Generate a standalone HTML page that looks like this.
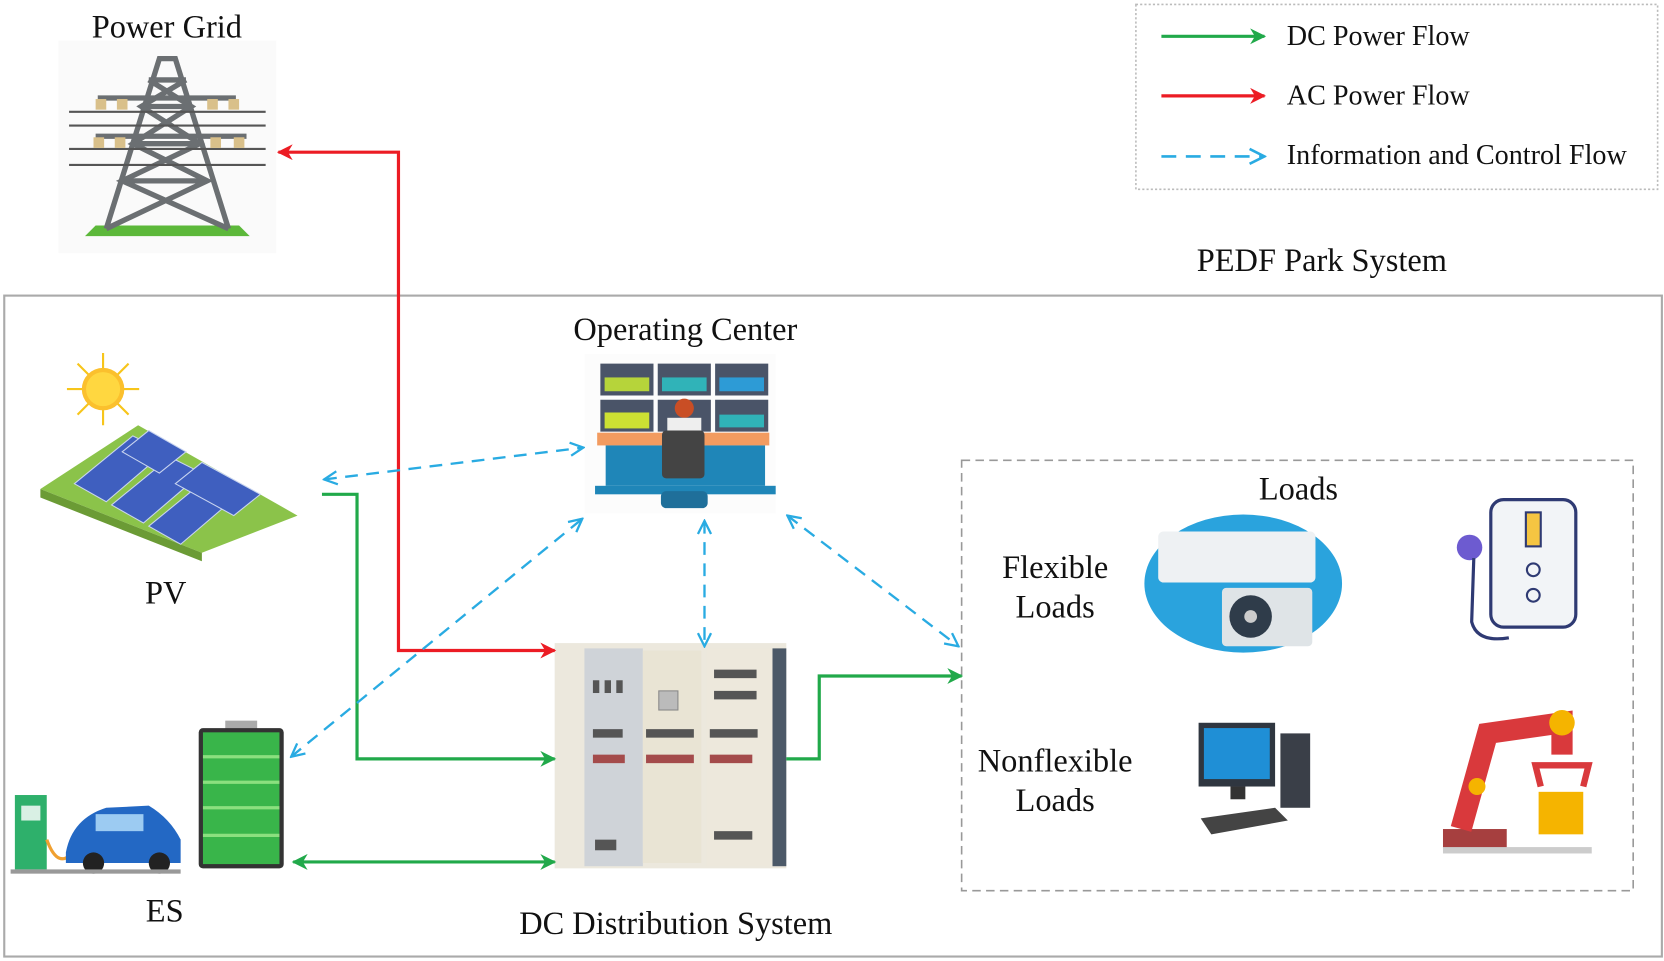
<!DOCTYPE html>
<html><head><meta charset="utf-8"><style>
html,body{margin:0;padding:0;background:#fff;}
svg{display:block;}
text{font-family:"Liberation Serif",serif;fill:#111;}
</style></head><body>
<svg width="1664" height="961" viewBox="0 0 1566 904" xmlns="http://www.w3.org/2000/svg">
<defs>
<marker id="g" viewBox="0 0 10 10" refX="9" refY="5" markerWidth="5" markerHeight="5" orient="auto-start-reverse"><path d="M0,0 L10,5 L0,10 L3,5 z" fill="#21a94a"/></marker>
<marker id="r" viewBox="0 0 10 10" refX="9" refY="5" markerWidth="5" markerHeight="5" orient="auto-start-reverse"><path d="M0,0 L10,5 L0,10 L3,5 z" fill="#ec1c24"/></marker>
<marker id="b" viewBox="0 0 10 10" refX="9" refY="5" markerWidth="7" markerHeight="7" orient="auto-start-reverse"><path d="M1,1 L9,5 L1,9" fill="none" stroke="#29abe2" stroke-width="1.4"/></marker>
</defs>

<!-- Legend -->
<rect x="1069" y="4" width="491" height="174" fill="none" stroke="#bbb" stroke-width="1.5" stroke-dasharray="2,2"/>
<line x1="1093" y1="34" x2="1190" y2="34" stroke="#21a94a" stroke-width="3" marker-end="url(#g)"/>
<line x1="1093" y1="90" x2="1190" y2="90" stroke="#ec1c24" stroke-width="3" marker-end="url(#r)"/>
<line x1="1093" y1="147" x2="1190" y2="147" stroke="#29abe2" stroke-width="2.5" stroke-dasharray="14,9" marker-end="url(#b)"/>
<text x="1211" y="42" font-size="26.5">DC Power Flow</text>
<text x="1211" y="98" font-size="26.5">AC Power Flow</text>
<text x="1211" y="154" font-size="26.5">Information and Control Flow</text>

<text x="1244" y="255" font-size="30.5" text-anchor="middle">PEDF Park System</text>
<text x="157" y="35" font-size="30.5" text-anchor="middle">Power Grid</text>

<!-- Main box -->
<rect x="4" y="278" width="1560" height="622" fill="none" stroke="#aaa" stroke-width="2"/>

<!-- Power tower -->
<rect x="55" y="38" width="205" height="200" fill="#fafafa"/>
<polygon points="80,222 235,222 225,212 90,212" fill="#5cb83a"/>
<g stroke="#6b6f72" stroke-width="5" fill="none">
<path d="M100,215 L150,55 L165,55 L215,215"/>
<path d="M115,170 L195,170 M125,135 L188,135 M133,100 L180,100 M140,75 L175,75"/>
<path d="M100,215 L195,170 L125,135 L180,100 L140,75 M215,215 L115,170 L188,135 L133,100 L175,75"/>
</g>
<g stroke="#555" stroke-width="2">
<line x1="65" y1="105" x2="250" y2="105"/><line x1="65" y1="118" x2="250" y2="118"/>
<line x1="65" y1="140" x2="250" y2="140"/><line x1="65" y1="155" x2="250" y2="155"/>
<line x1="92" y1="92" x2="222" y2="92" stroke-width="5" stroke="#6b6f72"/>
<line x1="90" y1="128" x2="232" y2="128" stroke-width="5" stroke="#6b6f72"/>
</g>
<g fill="#d9c08a"><rect x="90" y="93" width="10" height="10"/><rect x="215" y="93" width="10" height="10"/><rect x="110" y="93" width="10" height="10"/><rect x="195" y="93" width="10" height="10"/><rect x="88" y="129" width="10" height="10"/><rect x="220" y="129" width="10" height="10"/><rect x="108" y="129" width="10" height="10"/><rect x="198" y="129" width="10" height="10"/></g>

<!-- PV -->
<g stroke="#f7c51a" stroke-width="2">
<line x1="97" y1="332" x2="97" y2="400"/><line x1="63" y1="366" x2="131" y2="366"/>
<line x1="73" y1="342" x2="121" y2="390"/><line x1="121" y1="342" x2="73" y2="390"/>
</g>
<circle cx="97" cy="366" r="20" fill="#fbc02d"/>
<circle cx="97" cy="366" r="16" fill="#ffd740"/>
<polygon points="38,460 130,400 280,485 190,520" fill="#8bc34a"/>
<polygon points="38,460 190,520 190,528 38,468" fill="#6b9b35"/>
<g fill="#3f5fbf" stroke="#c9d5f0" stroke-width="1">
<polygon points="70,455 125,410 155,425 100,472"/>
<polygon points="105,475 160,430 190,445 135,492"/>
<polygon points="140,495 195,450 225,465 170,512"/>
<polygon points="115,425 140,405 175,425 150,445"/>
<polygon points="165,455 190,435 245,465 220,485"/>
</g>
<text x="156" y="568" font-size="30.5" text-anchor="middle">PV</text>

<!-- Operating center -->
<rect x="550" y="333" width="180" height="150" fill="#fcfcfc"/>
<g fill="#4a5468">
<rect x="565" y="342" width="50" height="30"/><rect x="619" y="342" width="50" height="30"/><rect x="673" y="342" width="50" height="30"/>
<rect x="565" y="376" width="50" height="30"/><rect x="619" y="376" width="50" height="30"/><rect x="673" y="376" width="50" height="30"/>
</g>
<rect x="569" y="355" width="42" height="13" fill="#b6d43a"/><rect x="623" y="355" width="42" height="13" fill="#30b3b8"/><rect x="677" y="355" width="42" height="13" fill="#2d9bd6"/>
<rect x="569" y="388" width="42" height="15" fill="#cde033"/><rect x="677" y="390" width="42" height="12" fill="#30b3b8"/>
<rect x="562" y="407" width="162" height="12" fill="#f29b60"/>
<rect x="570" y="419" width="150" height="38" fill="#1f86b8"/>
<rect x="560" y="457" width="170" height="8" fill="#1f86b8"/>
<circle cx="644" cy="384" r="9" fill="#c94e25"/>
<rect x="628" y="393" width="32" height="20" fill="#eee"/>
<rect x="623" y="405" width="40" height="45" rx="4" fill="#444"/>
<rect x="622" y="462" width="44" height="16" rx="5" fill="#1f6f9a"/>
<text x="645" y="320" font-size="30.5" text-anchor="middle">Operating Center</text>

<!-- DC cabinet -->
<rect x="522" y="605" width="218" height="212" fill="#ece8dd"/>
<rect x="550" y="610" width="55" height="205" fill="#cfd3d8"/>
<rect x="605" y="612" width="55" height="200" fill="#e9e4d4"/>
<rect x="665" y="610" width="62" height="205" fill="#ede8dc"/>
<rect x="727" y="610" width="13" height="205" fill="#4c5968"/>
<rect x="620" y="650" width="18" height="18" fill="#bbb" stroke="#888"/>
<g fill="#555">
<rect x="558" y="640" width="6" height="12"/><rect x="569" y="640" width="6" height="12"/><rect x="580" y="640" width="6" height="12"/>
<rect x="558" y="686" width="28" height="8"/><rect x="608" y="686" width="45" height="8"/><rect x="668" y="686" width="45" height="8"/>
<rect x="672" y="630" width="40" height="8"/><rect x="672" y="650" width="40" height="8"/>
<rect x="560" y="790" width="20" height="10"/><rect x="672" y="782" width="36" height="8"/>
</g>
<g fill="#a44b4b"><rect x="558" y="710" width="30" height="8"/><rect x="608" y="710" width="45" height="8"/><rect x="668" y="710" width="40" height="8"/></g>
<text x="636" y="879" font-size="30.5" text-anchor="middle">DC Distribution System</text>

<!-- ES -->
<rect x="14" y="748" width="30" height="70" fill="#2eb06b"/>
<rect x="20" y="758" width="18" height="14" fill="#d9f0e4"/>
<path d="M44,790 Q55,820 70,800" stroke="#f0a030" stroke-width="3" fill="none"/>
<path d="M62,802 Q68,770 100,760 L140,758 Q160,770 170,790 L170,812 L62,812 z" fill="#2368c4"/>
<rect x="90" y="766" width="45" height="16" fill="#9ccbf2"/>
<circle cx="88" cy="812" r="10" fill="#222"/><circle cx="150" cy="812" r="10" fill="#222"/>
<rect x="10" y="818" width="160" height="4" fill="#999"/>
<rect x="212" y="678" width="30" height="8" fill="#aaa"/>
<rect x="187" y="685" width="80" height="132" rx="4" fill="#333"/>
<rect x="191" y="689" width="72" height="124" fill="#39b54a"/>
<g stroke="#8be07f" stroke-width="3"><line x1="191" y1="712" x2="263" y2="712"/><line x1="191" y1="736" x2="263" y2="736"/><line x1="191" y1="760" x2="263" y2="760"/><line x1="191" y1="786" x2="263" y2="786"/></g>
<text x="155" y="867" font-size="30.5" text-anchor="middle">ES</text>

<!-- Loads box -->
<rect x="905" y="433" width="632" height="405" fill="none" stroke="#999" stroke-width="1.5" stroke-dasharray="8,5"/>
<text x="1222" y="470" font-size="30.5" text-anchor="middle">Loads</text>
<text x="993" y="544" font-size="30.5" text-anchor="middle">Flexible</text>
<text x="993" y="581" font-size="30.5" text-anchor="middle">Loads</text>
<text x="993" y="726" font-size="30.5" text-anchor="middle">Nonflexible</text>
<text x="993" y="763" font-size="30.5" text-anchor="middle">Loads</text>

<ellipse cx="1170" cy="549" rx="93" ry="65" fill="#2aa3dd"/>
<rect x="1090" y="500" width="148" height="48" rx="5" fill="#eef1f3"/>
<rect x="1150" y="553" width="85" height="55" rx="4" fill="#dfe4e7"/>
<circle cx="1177" cy="580" r="20" fill="#2f3c4a"/>
<circle cx="1177" cy="580" r="6" fill="#ccc"/>

<rect x="1403" y="470" width="80" height="120" rx="12" fill="#f2f4f7" stroke="#2f3a73" stroke-width="3"/>
<rect x="1436" y="482" width="14" height="32" fill="#f5c542" stroke="#2f3a73" stroke-width="2"/>
<circle cx="1443" cy="536" r="6" fill="none" stroke="#2f3a73" stroke-width="2"/>
<circle cx="1443" cy="560" r="6" fill="none" stroke="#2f3a73" stroke-width="2"/>
<circle cx="1383" cy="515" r="12" fill="#6d5bd0"/>
<path d="M1387,525 L1385,585 Q1390,605 1420,600" stroke="#2f3a73" stroke-width="3" fill="none"/>

<rect x="1128" y="680" width="72" height="60" fill="#2f3640"/>
<rect x="1133" y="685" width="62" height="48" fill="#1f8fd6"/>
<rect x="1158" y="740" width="14" height="12" fill="#333"/>
<rect x="1205" y="690" width="28" height="70" fill="#3a3f48"/>
<polygon points="1130,770 1200,760 1212,772 1140,785" fill="#444"/>

<rect x="1358" y="780" width="60" height="18" fill="#a63f3f"/>
<rect x="1358" y="797" width="140" height="6" fill="#ccc"/>
<path d="M1375,780 L1400,690 L1470,680 L1470,710" stroke="#d9393c" stroke-width="20" fill="none"/>
<circle cx="1390" cy="740" r="8" fill="#f5b400"/>
<circle cx="1470" cy="680" r="12" fill="#f5b400"/>
<rect x="1448" y="745" width="42" height="40" fill="#f5b400"/>
<path d="M1450,740 L1445,720 L1495,720 L1490,740" stroke="#d9393c" stroke-width="6" fill="none"/>

<!-- Connectors -->
<polyline points="522,612 375,612 375,143 262,143" fill="none" stroke="#ec1c24" stroke-width="3" marker-start="url(#r)" marker-end="url(#r)"/>
<polyline points="303,465 336,465 336,714 522,714" fill="none" stroke="#21a94a" stroke-width="3" marker-end="url(#g)"/>
<polyline points="740,714 771,714 771,636 905,636" fill="none" stroke="#21a94a" stroke-width="3" marker-end="url(#g)"/>
<line x1="276" y1="811" x2="522" y2="811" stroke="#21a94a" stroke-width="3" marker-start="url(#g)" marker-end="url(#g)"/>
<g stroke="#29abe2" stroke-width="2.2" stroke-dasharray="12,8" fill="none">
<line x1="305" y1="451" x2="549" y2="421" marker-start="url(#b)" marker-end="url(#b)"/>
<line x1="274" y1="712" x2="548" y2="488" marker-start="url(#b)" marker-end="url(#b)"/>
<line x1="663" y1="490" x2="663" y2="608" marker-start="url(#b)" marker-end="url(#b)"/>
<line x1="741" y1="485" x2="902" y2="608" marker-start="url(#b)" marker-end="url(#b)"/>
</g>
</svg>
</body></html>
